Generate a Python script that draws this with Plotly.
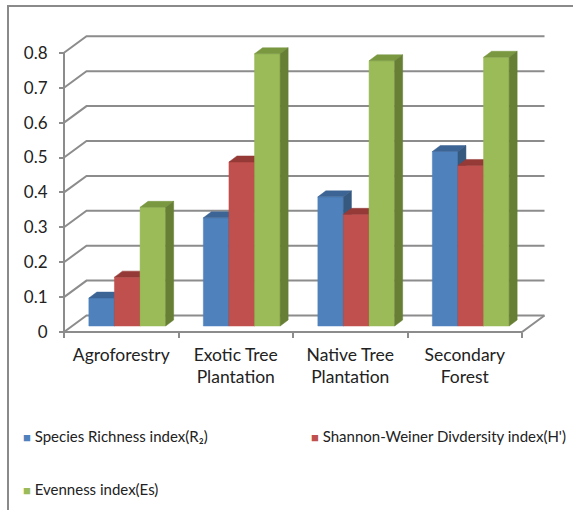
import plotly.graph_objects as go

# ---------------- data ----------------
categories = ["Agroforestry", "Exotic Tree<br>Plantation", "Native Tree<br>Plantation", "Secondary<br>Forest"]
species_richness = [0.08, 0.31, 0.37, 0.50]
shannon_weiner = [0.14, 0.47, 0.32, 0.46]
evenness = [0.34, 0.78, 0.76, 0.77]
series_names = ["Species Richness index(R\u2082)", "Shannon-Weiner Divdersity index(H')", "Evenness index(Es)"]
y_tick_vals = [0, 0.1, 0.2, 0.3, 0.4, 0.5, 0.6, 0.7, 0.8]
y_tick_text = ["0", "0.1", "0.2", "0.3", "0.4", "0.5", "0.6", "0.7", "0.8"]

series = [species_richness, shannon_weiner, evenness]
front_colors = ["#4F81BD", "#C0504D", "#9BBB59"]
top_colors = ["#3C6495", "#953A37", "#7A9840"]
side_colors = ["#36597F", "#8A3431", "#677F35"]

# ---------------- geometry (layout) ----------------
W, H = 573, 510
ML, MR, MT, MB = 44, 20, 20, 160
PX_X, PX_Y = 114.5, 349.0          # pixels per data unit
X0_PX, Y0_PX = 64, 332              # pixel position of the front origin
DX, DY = 22.5 / PX_X, 16.5 / PX_Y   # wall depth offset
BOX, BOY = 6 / PX_X, 6 / PX_Y       # bar front-face depth offset
BDX, BDY = 8 / PX_X, 6 / PX_Y       # bar depth
BW = 25.6 / PX_X                    # bar width

x_range = [(ML - X0_PX) / PX_X, (W - MR - X0_PX) / PX_X]
y_range = [(Y0_PX - (H - MB)) / PX_Y, (Y0_PX - MT) / PX_Y]
plot_w, plot_h = W - ML - MR, H - MT - MB


def paper_x(px):
    return (px - ML) / plot_w


def paper_y(py):
    return (H - MB - py) / plot_h


n = len(categories)
GRID = "#8C8C8C"
TXT = "#222222"
FONT = "Lato"

fig = go.Figure()

# walls / gridlines
gx, gy = [], []
for v in y_tick_vals:
    gx += [0, DX, n + DX, None]
    gy += [v, v + DY, v + DY, None]
# floor edges and value axis
gx += [0, n, n + DX, None, 0, 0, None]
gy += [0, 0, DY, None, 0, max(y_tick_vals), None]
fig.add_trace(go.Scatter(x=gx, y=gy, mode="lines", line=dict(color=GRID, width=2),
                         hoverinfo="skip", showlegend=False))

# 3D-looking bars
for s, vals in enumerate(series):
    fx, fy, tx, ty, sx, sy = [], [], [], [], [], []
    for c, v in enumerate(vals):
        x0 = c + 0.5 + BOX - 1.5 * BW + s * BW
        x1 = x0 + BW
        b = BOY
        t = v + BOY
        fx += [x0, x1, x1, x0, x0, None]
        fy += [b, b, t, t, b, None]
        tx += [x0, x1, x1 + BDX, x0 + BDX, x0, None]
        ty += [t, t, t + BDY, t + BDY, t, None]
        sx += [x1, x1 + BDX, x1 + BDX, x1, x1, None]
        sy += [b, b + BDY, t + BDY, t, b, None]
    for xs, ys, col in ((fx, fy, front_colors[s]), (tx, ty, top_colors[s]), (sx, sy, side_colors[s])):
        fig.add_trace(go.Scatter(x=xs, y=ys, mode="lines", fill="toself", fillcolor=col,
                                 line=dict(color=col, width=0.5), hoverinfo="skip",
                                 name=series_names[s], showlegend=False))

# legend (drawn as text entries with coloured square glyphs)
legend_pos = [(21, 436), (309, 436), (21, 489)]
annotations = []
for s, name in enumerate(series_names):
    lx, ly = legend_pos[s]
    annotations.append(dict(
        xref="paper", yref="paper", x=paper_x(lx), y=paper_y(ly), xanchor="left",
        yanchor="middle", showarrow=False, align="left",
        text='<span style="color:%s;font-size:13px">\u25A0</span> %s' % (front_colors[s], name),
        font=dict(family=FONT, size=15, color=TXT)))

fig.update_layout(
    width=W, height=H,
    margin=dict(l=ML, r=MR, t=MT, b=MB, autoexpand=False),
    paper_bgcolor="white", plot_bgcolor="white",
    font=dict(family=FONT, size=14, color=TXT),
    showlegend=False,
    xaxis=dict(range=x_range, anchor="free", position=paper_y(Y0_PX), showgrid=False,
               zeroline=False, showline=False, tickmode="array",
               tickvals=list(range(n + 1)), showticklabels=False,
               ticks="outside", ticklen=5, tickwidth=1.5, tickcolor=GRID),
    xaxis2=dict(range=x_range, overlaying="x", anchor="free", position=paper_y(Y0_PX),
                side="bottom", showgrid=False, zeroline=False, showline=False,
                tickmode="array", tickvals=[c + 0.5 for c in range(n)], ticktext=categories,
                ticks="", ticklabelstandoff=10, tickfont=dict(family=FONT, size=17.5, color=TXT)),
    yaxis=dict(range=y_range, anchor="free", position=paper_x(X0_PX), showgrid=False,
               zeroline=False, showline=False, tickmode="array", tickvals=y_tick_vals,
               ticktext=y_tick_text, ticks="outside", ticklen=5, tickwidth=1.5,
               tickcolor=GRID, ticklabelstandoff=8,
               tickfont=dict(family=FONT, size=17, color=TXT)),
    shapes=[dict(type="rect", xref="paper", yref="paper",
                 x0=paper_x(8), x1=paper_x(582), y0=paper_y(522), y1=paper_y(6),
                 line=dict(color="#8A8A8A", width=2), fillcolor="rgba(0,0,0,0)", layer="below")],
    annotations=annotations,
)

# a dummy trace so xaxis2 is rendered
fig.add_trace(go.Scatter(x=[None], y=[None], xaxis="x2", showlegend=False, hoverinfo="skip"))

fig.write_html("out.html")
